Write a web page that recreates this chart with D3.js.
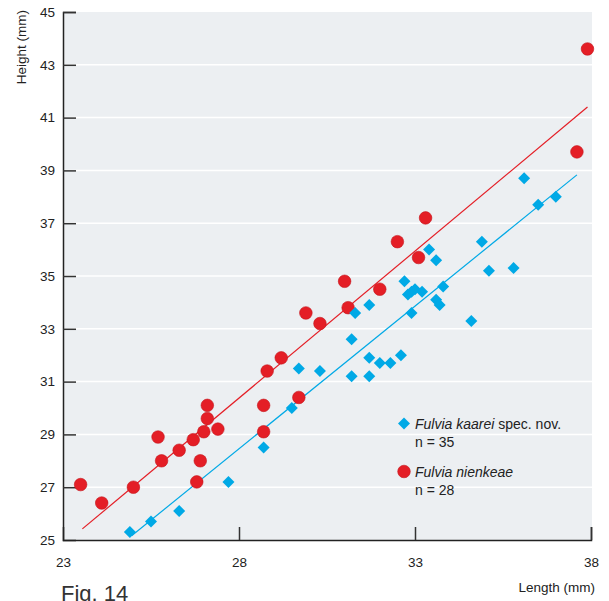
<!DOCTYPE html>
<html>
<head>
<meta charset="utf-8">
<script src="https://cdn.jsdelivr.net/npm/d3@7"></script>
<style>
  html, body { margin: 0; padding: 0; background: #ffffff; }
  svg { display: block; font-family: "Liberation Sans", Arial, sans-serif; }
</style>
</head>
<body>
<svg id="chart" width="609" height="601"></svg>
<script>
// Shell length vs. height measurements (mm)
const kaareiLength = [24.9, 25.5, 26.3, 27.7, 28.7, 29.5, 29.7, 30.3, 31.2, 31.2, 31.3, 31.7,
  31.7, 31.7, 32.0, 32.3, 32.6, 32.7, 32.8, 32.9, 33.0, 33.2, 33.4, 33.6, 33.8, 33.6, 33.7,
  34.6, 34.9, 35.1, 35.8, 36.1, 36.5, 37.0, 32.9];
const kaareiHeight = [25.3, 25.7, 26.1, 27.2, 28.5, 30.0, 31.5, 31.4, 32.6, 31.2, 33.6, 33.9,
  31.9, 31.2, 31.7, 31.7, 32.0, 34.8, 34.3, 33.6, 34.5, 34.4, 36.0, 35.6, 34.6, 34.1, 33.9,
  33.3, 36.3, 35.2, 35.3, 38.7, 37.7, 38.0, 34.4];

const nienkeaeLength = [23.5, 24.1, 25.0, 25.7, 25.8, 26.3, 26.7, 27.0, 27.1, 27.1, 27.4, 26.9,
  26.8, 28.7, 28.7, 29.7, 28.8, 29.2, 29.9, 30.3, 31.0, 31.1, 32.0, 32.5, 33.1, 33.3, 37.6, 37.9];
const nienkeaeHeight = [27.1, 26.4, 27.0, 28.9, 28.0, 28.4, 28.8, 29.1, 29.6, 30.1, 29.2, 28.0,
  27.2, 30.1, 29.1, 30.4, 31.4, 31.9, 33.6, 33.2, 34.8, 33.8, 34.5, 36.3, 35.7, 37.2, 39.7, 43.6];

// Regression line end points [length, height]
const kaareiFit = [[24.95, 25.16], [37.6, 38.83]];
const nienkeaeFit = [[23.55, 25.42], [37.9, 41.4]];

const xTicks = [23, 28, 33, 38];
const yTicks = [25, 27, 29, 31, 33, 35, 37, 39, 41, 43, 45];

const legendItems = [
  { name: "Fulvia kaarei", extra: " spec. nov.", n: "n = 35", shape: "diamond" },
  { name: "Fulvia nienkeae", extra: "", n: "n = 28", shape: "circle" }
];

const blue = "#00a9e6";
const red = "#e41e26";

const svg = d3.select("#chart");
const plotLeft = 63, plotRight = 591, plotTop = 12, plotBottom = 540;

const x = d3.scaleLinear().domain([23, 38]).range([plotLeft, plotRight]);
const y = d3.scaleLinear().domain([25, 45]).range([plotBottom, plotTop]);

// plot background
svg.append("rect")
  .attr("x", plotLeft).attr("y", plotTop)
  .attr("width", plotRight - plotLeft + 1).attr("height", plotBottom - plotTop)
  .attr("fill", "#eceff2");

// white horizontal grid lines
svg.append("g")
  .selectAll("line")
  .data(yTicks.filter(v => v > 25 && v < 45))
  .join("line")
  .attr("x1", plotLeft).attr("x2", plotRight + 1)
  .attr("y1", d => y(d)).attr("y2", d => y(d))
  .attr("stroke", "#ffffff").attr("stroke-width", 1.5);

// y axis with inward ticks
const yAxis = d3.axisLeft(y).tickValues(yTicks).tickSize(-13).tickPadding(8).tickFormat(d3.format("d"));
const gy = svg.append("g").attr("transform", `translate(${plotLeft},0)`).call(yAxis)
  .attr("font-size", 13.5).attr("font-family", "Liberation Sans, Arial, sans-serif");
gy.select(".domain").attr("stroke", "#222").attr("stroke-width", 1.5);
gy.selectAll(".tick line").attr("stroke", "#333").attr("stroke-width", 1.5);
gy.selectAll(".tick text").attr("fill", "#222");
gy.selectAll(".tick").filter(d => d === 25).select("line").remove();

// x axis with inward ticks
const xAxis = d3.axisBottom(x).tickValues(xTicks).tickSize(-13).tickPadding(17).tickFormat(d3.format("d"));
const gx = svg.append("g").attr("transform", `translate(0,${plotBottom})`).call(xAxis)
  .attr("font-size", 13.5).attr("font-family", "Liberation Sans, Arial, sans-serif");
gx.select(".domain").attr("stroke", "#222").attr("stroke-width", 1.5);
gx.selectAll(".tick line").attr("stroke", "#333").attr("stroke-width", 1.5);
gx.selectAll(".tick text").attr("fill", "#222");
gx.selectAll(".tick").filter(d => d === 23).select("line").remove();

// axis titles
svg.append("text")
  .attr("transform", `translate(26,10) rotate(-90)`)
  .attr("text-anchor", "end")
  .attr("font-size", 13.5).attr("fill", "#222")
  .text("Height (mm)");

svg.append("text")
  .attr("x", 595).attr("y", 592)
  .attr("text-anchor", "end")
  .attr("font-size", 13.5).attr("fill", "#222")
  .text("Length (mm)");

svg.append("text")
  .attr("x", 61).attr("y", 601)
  .attr("font-size", 22).attr("fill", "#333")
  .text("Fig. 14");

// regression lines
const line = d3.line().x(d => x(d[0])).y(d => y(d[1]));
svg.append("path").datum(nienkeaeFit).attr("d", line)
  .attr("fill", "none").attr("stroke", red).attr("stroke-width", 1.2);
svg.append("path").datum(kaareiFit).attr("d", line)
  .attr("fill", "none").attr("stroke", blue).attr("stroke-width", 1.2);

// Fulvia nienkeae points
svg.append("g").selectAll("circle")
  .data(d3.zip(nienkeaeLength, nienkeaeHeight))
  .join("circle")
  .attr("cx", d => x(d[0])).attr("cy", d => y(d[1]))
  .attr("r", 6.3)
  .attr("fill", red).attr("stroke", "#c4161d").attr("stroke-width", 0.6);

// Fulvia kaarei points (squares turned 45°)
const diamond = d3.symbol().type(d3.symbolSquare).size(72);
svg.append("g").selectAll("path")
  .data(d3.zip(kaareiLength, kaareiHeight))
  .join("path")
  .attr("d", diamond)
  .attr("transform", d => `translate(${x(d[0])},${y(d[1])}) rotate(45)`)
  .attr("fill", blue);

// legend
const lg = svg.append("g").attr("transform", "translate(404,0)");
const rows = lg.selectAll("g").data(legendItems).join("g")
  .attr("transform", (d, i) => `translate(0,${423.5 + i * 48})`);
rows.filter(d => d.shape === "diamond").append("path")
  .attr("d", diamond).attr("transform", "rotate(45)").attr("fill", blue);
rows.filter(d => d.shape === "circle").append("circle")
  .attr("r", 6.3).attr("fill", red).attr("stroke", "#c4161d").attr("stroke-width", 0.6);
const t = rows.append("text").attr("x", 11).attr("y", 5).attr("font-size", 14).attr("fill", "#222");
t.append("tspan").attr("font-style", "italic").text(d => d.name);
t.append("tspan").text(d => d.extra);
rows.append("text").attr("x", 11).attr("y", 23.5).attr("font-size", 14).attr("fill", "#222")
  .text(d => d.n);
</script>
</body>
</html>
